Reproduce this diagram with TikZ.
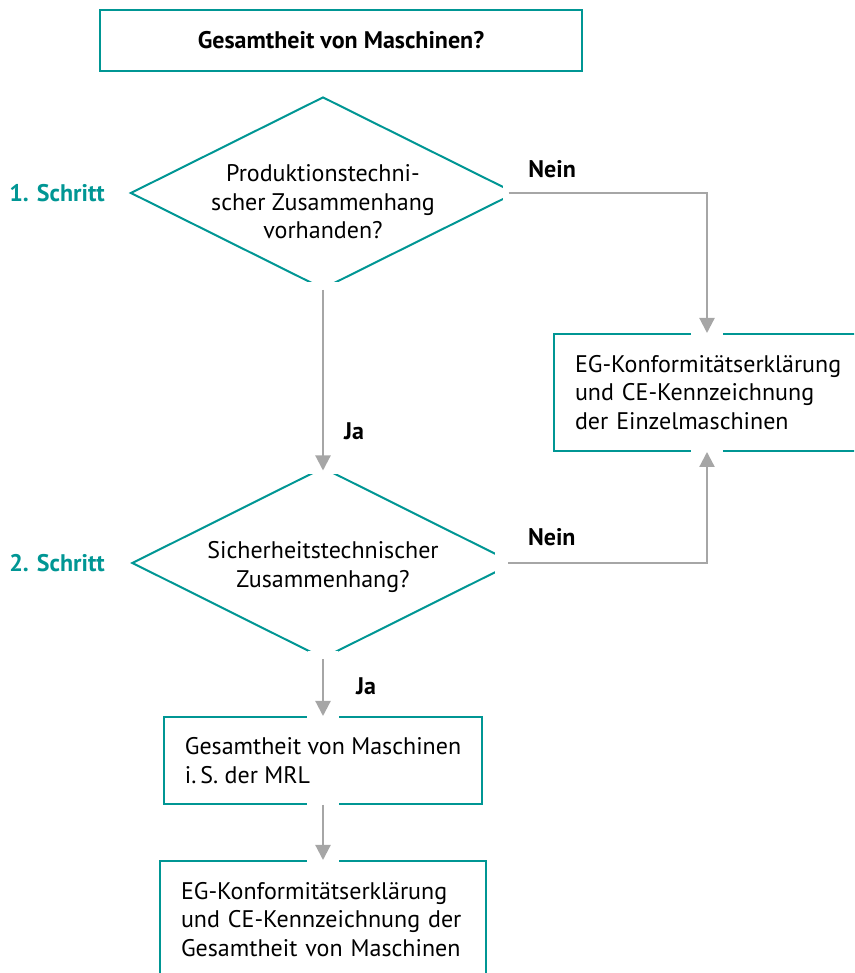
\documentclass[tikz,border=0pt]{standalone}
\usepackage{fontspec}
\setmainfont{PT Sans}
\usetikzlibrary{shapes.geometric,arrows.meta}

\definecolor{petrol}{RGB}{0,150,148}
\definecolor{pfeilgrau}{RGB}{166,166,166}

\begin{document}
\begin{tikzpicture}[x=1pt, y=1pt, >={Triangle[length=15pt,width=15pt]}, node distance=370pt, font=\fontsize{24}{28.5}\selectfont]
 \tikzstyle{box}=[rectangle, draw=petrol, line width=2pt, inner xsep=21pt, inner ysep=0pt, align=left]
 \tikzstyle{raute}=[diamond, draw=petrol, line width=2pt, inner sep=0pt, aspect=2]
 \tikzstyle{frage}=[align=center, inner sep=0pt]
 \tikzstyle{schritt}=[text=petrol, font=\fontsize{24}{28}\selectfont\bfseries]
 \tikzstyle{conn}=[draw=pfeilgrau, line width=2.2pt]
 \tikzstyle{antwort}=[inner sep=0pt, font=\fontsize{24}{28}\selectfont\bfseries]
 \tikzstyle{luecke}=[fill=white]

\clip (0,0) rectangle (854,973);

\node[box, align=center, minimum width=482pt, minimum height=61pt, font=\fontsize{24}{28}\selectfont\bfseries] (frage0) at (341,932.5) {Gesamtheit von Maschinen?};

\node[raute, minimum width=385pt, minimum height=192pt] (d1) at (323,780) {};
\node[raute, minimum width=382pt, minimum height=191pt] (d2) [below of=d1] {};
\node[frage] (d1t) at ([yshift=-9pt]d1.center) {Produktionstechni-\\scher Zusammenhang\\vorhanden?};
\node[frage] (d2t) at ([yshift=-4pt]d2.center) {Sicherheitstechnischer\\Zusammenhang?};

\node[schritt] (s1) [left of=d1, node distance=266pt] {1. Schritt};
\node[schritt] (s2) [left of=d2, node distance=266pt] {2. Schritt};

\node[box, text width=300pt, minimum height=117pt, anchor=west] (einzel) at (553,580.5) {EG-Konformitätserklärung\\und CE-Kennzeichnung\\der Einzelmaschinen};
\coordinate (einzelN) at ([xshift=154pt]einzel.north west);
\coordinate (einzelS) at ([xshift=154pt]einzel.south west);
\node[box, minimum height=87pt] (mrl) [below of=d2, node distance=197.5pt] {Gesamtheit von Maschinen\\i.\,S. der MRL};
\node[box, text width=284pt, minimum height=117pt] (ce) [below of=mrl, node distance=159pt] {EG-Konformitätserklärung\\und CE-Kennzeichnung der\\Gesamtheit von Maschinen};

% Luecken an den Pfeilenden
\fill[luecke] ([shift={(-14,-9)}]d1.east) rectangle ([shift={(2,9)}]d1.east);
\fill[luecke] ([shift={(-16,-2)}]d1.south) rectangle ([shift={(16,8)}]d1.south);
\fill[luecke] ([shift={(-17,-8)}]d2.north) rectangle ([shift={(17,2)}]d2.north);
\fill[luecke] ([shift={(-20,-11)}]d2.east) rectangle ([shift={(2,11)}]d2.east);
\fill[luecke] ([shift={(-15,-2)}]d2.south) rectangle ([shift={(15,8)}]d2.south);
\fill[luecke] ([shift={(-16,-3)}]einzelN) rectangle ([shift={(16,3)}]einzelN);
\fill[luecke] ([shift={(-16,-3)}]einzelS) rectangle ([shift={(16,3)}]einzelS);
\fill[luecke] ([shift={(-16,-3)}]mrl.north) rectangle ([shift={(16,3)}]mrl.north);
\fill[luecke] ([shift={(-16,-3)}]mrl.south) rectangle ([shift={(16,3)}]mrl.south);
\fill[luecke] ([shift={(-16,-3)}]ce.north) rectangle ([shift={(16,3)}]ce.north);

\draw[conn,->] ([xshift=-8pt]d1.east) -| node[antwort, pos=0.11, above=14pt] {Nein} (einzelN);
\draw[conn,->] ([xshift=-7pt]d2.east) -| node[antwort, pos=0.11, above=16pt] {Nein} (einzelS);
\draw[conn,->] (d1.south) -- node[antwort, pos=0.78, right=20pt] {Ja} ([yshift=-4pt]d2.north);
\draw[conn,->] (d2.south) -- node[antwort, pos=0.48, right=32pt] {Ja} (mrl.north);
\draw[conn,->] (mrl.south) -- (ce.north);
\end{tikzpicture}
\end{document}
